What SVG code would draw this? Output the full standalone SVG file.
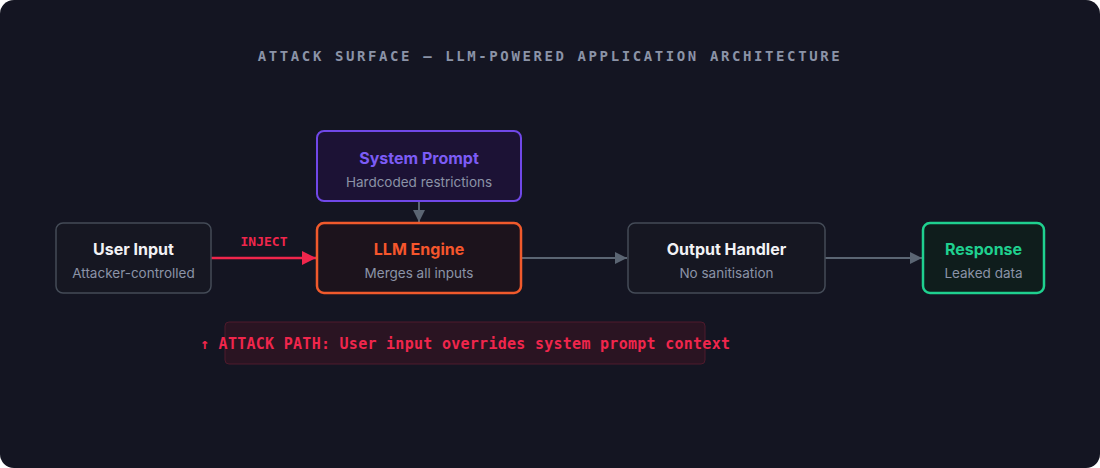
<svg xmlns="http://www.w3.org/2000/svg" width="1100" height="468" viewBox="0 0 1100 468">
<style>
.t{font-family:Inter,"Liberation Sans",sans-serif;font-size:16px;font-weight:700;text-anchor:middle}
.s{font-family:Inter,"Liberation Sans",sans-serif;font-size:13.5px;fill:#8b93a7;text-anchor:middle}
.m{font-family:"DejaVu Sans Mono","Liberation Mono",monospace;font-weight:700}
.c{fill:none;stroke:#5b6573;stroke-width:2}
</style>
<defs>
<marker id="ag" viewBox="0 0 10 10" refX="10" refY="5" markerWidth="12" markerHeight="12" orient="auto" markerUnits="userSpaceOnUse"><path d="M0,0L10,5L0,10z" fill="#5b6573"/></marker>
<marker id="ar" viewBox="0 0 10 10" refX="10" refY="5" markerWidth="14" markerHeight="14" orient="auto" markerUnits="userSpaceOnUse"><path d="M0,0L10,5L0,10z" fill="#f0264c"/></marker>
</defs>
<rect width="1100" height="468" rx="14" fill="#141522"/>
<text x="550" y="61" class="m" text-anchor="middle" font-size="14" font-weight="400" letter-spacing="2.6" fill="#8b93a7">ATTACK SURFACE — LLM-POWERED APPLICATION ARCHITECTURE</text>
<g id="connectors">
<line x1="419" y1="201" x2="419" y2="222" class="c" marker-end="url(#ag)"/>
<line x1="211" y1="258" x2="316" y2="258" stroke="#f0264c" stroke-width="2.5" marker-end="url(#ar)"/>
<text x="264" y="246" class="m" font-size="13" fill="#f0264c" text-anchor="middle">INJECT</text>
<line x1="521" y1="258" x2="627" y2="258" class="c" marker-end="url(#ag)"/>
<line x1="825" y1="258" x2="922" y2="258" class="c" marker-end="url(#ag)"/>
</g>
<g id="user-input"><rect x="56" y="223" width="155" height="70" rx="7" fill="#161722" stroke="#444b57" stroke-width="1.5"/><text x="133.5" y="255" class="t" fill="#f2f2f5">User Input</text><text x="133.5" y="278" class="s">Attacker-controlled</text></g>
<g id="system-prompt"><rect x="317" y="131" width="204" height="70" rx="7" fill="#1c1235" stroke="#7048e8" stroke-width="2"/><text x="419" y="164" class="t" fill="#7c5cf5">System Prompt</text><text x="419" y="187" class="s">Hardcoded restrictions</text></g>
<g id="llm-engine"><rect x="317" y="223" width="204" height="70" rx="7" fill="#1c131c" stroke="#f05a2c" stroke-width="2.5"/><text x="419" y="255" class="t" fill="#f5562c" font-size="17">LLM Engine</text><text x="419" y="278" class="s">Merges all inputs</text></g>
<g id="output-handler"><rect x="628" y="223" width="197" height="70" rx="7" fill="#161722" stroke="#444b57" stroke-width="1.5"/><text x="726.5" y="255" class="t" fill="#f2f2f5">Output Handler</text><text x="726.5" y="278" class="s">No sanitisation</text></g>
<g id="response"><rect x="923" y="223" width="121" height="70" rx="7" fill="#0f1d1c" stroke="#1fd08f" stroke-width="2.5"/><text x="983.5" y="255" class="t" fill="#1fd08f">Response</text><text x="983.5" y="278" class="s">Leaked data</text></g>
<g id="attack-path"><rect x="225" y="322" width="480" height="42" rx="4" fill="#2a1422" stroke="#4e1a2c" stroke-width="1"/><text x="465" y="349" class="m" font-size="15" fill="#f0264c" text-anchor="middle" textLength="530" lengthAdjust="spacing">↑ ATTACK PATH: User input overrides system prompt context</text></g>
</svg>
